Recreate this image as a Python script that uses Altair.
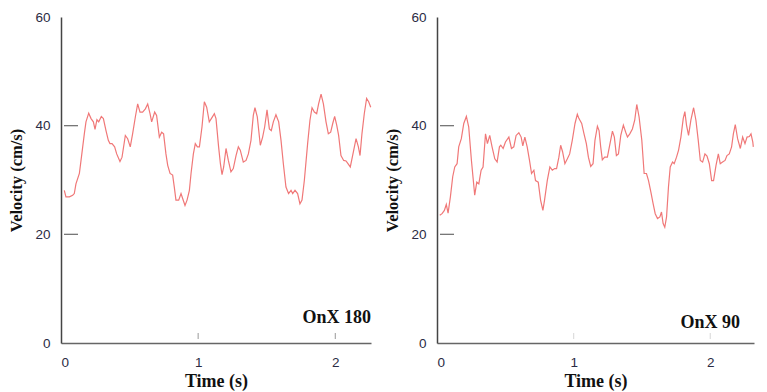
import altair as alt
import pandas as pd

# OnX 180 panel
t180 = [0.024, 0.036, 0.061, 0.085, 0.097, 0.109, 0.134, 0.146, 0.170, 0.182, 0.202, 0.219, 0.236, 0.248,
        0.262, 0.275, 0.294, 0.309, 0.328, 0.345, 0.357, 0.372, 0.391, 0.406, 0.430, 0.445, 0.469, 0.486,
        0.505, 0.522, 0.542, 0.559, 0.576, 0.595, 0.615, 0.632, 0.649, 0.661, 0.683, 0.697, 0.717, 0.734,
        0.748, 0.765, 0.778, 0.795, 0.814, 0.826, 0.838, 0.858, 0.875, 0.887, 0.904, 0.919, 0.936, 0.948,
        0.965, 0.979, 0.994, 1.009, 1.028, 1.045, 1.062, 1.081, 1.096, 1.118, 1.130, 1.149, 1.162, 1.174,
        1.186, 1.203, 1.220, 1.239, 1.256, 1.276, 1.293, 1.307, 1.329, 1.349, 1.366, 1.385, 1.402, 1.414,
        1.431, 1.453, 1.470, 1.485, 1.502, 1.519, 1.533, 1.548, 1.567, 1.587, 1.604, 1.621, 1.640, 1.659,
        1.677, 1.689, 1.706, 1.725, 1.742, 1.757, 1.774, 1.798, 1.815, 1.830, 1.847, 1.864, 1.878, 1.896,
        1.913, 1.932, 1.949, 1.966, 1.981, 1.995, 2.010, 2.024, 2.041, 2.061, 2.078, 2.092, 2.109, 2.126,
        2.151, 2.168, 2.180, 2.194, 2.211, 2.228, 2.243, 2.258]
v180 = [28.1, 26.9, 26.9, 27.2, 27.5, 29.3, 31.2, 33.6, 38.5, 40.7, 42.3, 41.3, 40.7, 39.3,
        41.1, 40.7, 41.7, 41.3, 39.1, 37.3, 36.7, 36.7, 36.1, 34.8, 33.4, 34.2, 38.2, 37.6,
        36.1, 38.5, 41.6, 44.0, 42.5, 42.5, 43.1, 44.0, 42.2, 40.7, 42.5, 41.9, 37.9, 38.8,
        38.5, 34.8, 32.7, 31.2, 30.9, 28.7, 26.3, 26.3, 27.5, 26.6, 25.3, 26.3, 28.1, 31.2,
        34.8, 36.7, 36.1, 36.1, 39.8, 44.4, 43.4, 40.7, 41.3, 42.2, 41.3, 36.1, 33.0, 31.0,
        32.4, 35.8, 33.6, 31.5, 32.1, 34.5, 36.1, 35.5, 33.3, 33.6, 34.8, 37.3, 41.9, 43.3,
        41.6, 36.4, 37.9, 39.8, 42.9, 39.4, 39.1, 40.7, 42.0, 40.7, 37.3, 33.0, 28.7, 27.5,
        28.1, 27.5, 28.1, 27.5, 25.6, 26.3, 29.9, 36.7, 41.0, 43.3, 42.5, 42.2, 44.0, 45.8,
        44.0, 40.7, 38.5, 38.8, 40.4, 41.7, 40.1, 38.2, 34.5, 33.6, 33.5, 33.0, 32.4, 34.5,
        37.6, 36.1, 34.5, 38.5, 42.2, 45.0, 44.4, 43.4]

# OnX 90 panel
t90 = [0.020, 0.037, 0.054, 0.068, 0.081, 0.098, 0.115, 0.130, 0.147, 0.159, 0.178, 0.196, 0.215, 0.232,
       0.252, 0.276, 0.291, 0.306, 0.323, 0.337, 0.355, 0.369, 0.386, 0.403, 0.423, 0.440, 0.457, 0.467,
       0.484, 0.501, 0.526, 0.545, 0.562, 0.579, 0.599, 0.616, 0.628, 0.643, 0.660, 0.677, 0.692, 0.709,
       0.721, 0.741, 0.758, 0.775, 0.787, 0.807, 0.826, 0.844, 0.861, 0.875, 0.892, 0.905, 0.919, 0.936,
       0.954, 0.971, 0.990, 1.010, 1.027, 1.039, 1.059, 1.076, 1.093, 1.108, 1.125, 1.142, 1.156, 1.174,
       1.186, 1.198, 1.210, 1.227, 1.247, 1.264, 1.284, 1.298, 1.313, 1.328, 1.345, 1.364, 1.381, 1.394,
       1.411, 1.430, 1.447, 1.462, 1.479, 1.499, 1.516, 1.533, 1.548, 1.565, 1.582, 1.597, 1.614, 1.631,
       1.643, 1.655, 1.667, 1.680, 1.694, 1.707, 1.724, 1.736, 1.753, 1.768, 1.785, 1.802, 1.814, 1.826,
       1.841, 1.858, 1.878, 1.895, 1.912, 1.927, 1.944, 1.961, 1.976, 1.993, 2.010, 2.024, 2.042, 2.059,
       2.073, 2.090, 2.108, 2.122, 2.139, 2.156, 2.169, 2.183, 2.200, 2.220, 2.237, 2.254, 2.269, 2.286,
       2.298, 2.311, 2.315]
v90 = [23.5, 23.8, 24.4, 25.5, 23.9, 26.9, 30.6, 32.4, 33.0, 36.1, 37.6, 40.4, 41.7, 39.8,
       33.6, 27.2, 29.6, 29.3, 31.8, 32.4, 38.5, 36.7, 38.2, 36.1, 33.9, 33.3, 36.1, 36.4,
       35.8, 37.0, 37.9, 35.8, 36.1, 38.2, 38.7, 37.9, 36.3, 37.9, 36.1, 33.6, 31.2, 31.8,
       29.9, 29.6, 26.3, 24.4, 26.3, 29.9, 32.4, 31.8, 32.1, 32.1, 34.2, 36.4, 35.2, 33.0,
       33.9, 34.8, 37.3, 40.4, 42.1, 41.3, 40.4, 38.5, 36.7, 34.2, 32.5, 33.0, 37.3, 39.9,
       39.1, 36.1, 33.7, 34.2, 34.2, 36.4, 39.0, 37.9, 34.5, 34.8, 38.2, 40.1, 38.8, 37.9,
       38.5, 39.4, 41.0, 43.9, 41.6, 37.3, 31.2, 31.2, 29.9, 27.8, 25.6, 23.8, 22.9, 23.2,
       24.1, 22.0, 21.3, 23.2, 28.7, 32.4, 33.3, 33.0, 34.2, 35.5, 37.9, 41.3, 42.6, 40.1,
       38.2, 41.0, 43.3, 41.0, 37.3, 33.6, 33.3, 34.8, 34.4, 33.0, 29.9, 29.9, 32.7, 34.8,
       33.0, 33.3, 33.6, 34.5, 34.8, 36.1, 38.5, 40.2, 37.6, 35.8, 37.9, 36.7, 37.9, 38.0,
       38.5, 37.0, 36.1]

y_ticks = [0, 20, 40, 60]
x_ticks = [0, 1, 2]
inner_y_ticks = [20, 40]
inner_x_ticks = [1, 2]

LINE = "#F07878"
SERIF = "Liberation Serif"
SANS = "Liberation Sans"


def panel(t, v, xmax, width, label, label_x, label_y, xtick_color):
    df = pd.DataFrame({"t": t, "v": v})
    xs = alt.Scale(domain=[0, xmax], nice=False, zero=False)
    ys = alt.Scale(domain=[0, 60], nice=False)
    xax = alt.Axis(values=x_ticks, ticks=False, grid=False, title="Time (s)", format="d",
                   domainColor="#666666", domainWidth=1.5, labelPadding=12, titlePadding=4,
                   titleFontSize=18)
    yax = alt.Axis(values=y_ticks, ticks=False, grid=False, title="Velocity (cm/s)",
                   domainColor="#444444", domainWidth=1.5, labelPadding=11, titlePadding=10,
                   titleFontSize=16.5)
    line = alt.Chart(df).mark_line(color=LINE, strokeWidth=1.2).encode(
        x=alt.X("t:Q", scale=xs, axis=xax),
        y=alt.Y("v:Q", scale=ys, axis=yax),
    )
    yt = alt.Chart(pd.DataFrame({"y": inner_y_ticks})).mark_rule(color="#777777", strokeWidth=1.3).encode(
        x=alt.value(3), x2=alt.value(17), y=alt.Y("y:Q", scale=ys)
    )
    xt = alt.Chart(pd.DataFrame({"x": inner_x_ticks})).mark_rule(color=xtick_color, strokeWidth=1.2).encode(
        x=alt.X("x:Q", scale=xs), y=alt.value(316), y2=alt.value(322)
    )
    txt = alt.Chart(pd.DataFrame({"label": [label]})).mark_text(
        font=SERIF, fontSize=18, fontWeight="bold", align="right", baseline="alphabetic", color="#111111"
    ).encode(text="label:N", x=alt.value(label_x), y=alt.value(label_y))
    return alt.layer(line, yt, xt, txt).properties(width=width, height=326)


left = panel(t180, v180, 2.26, 310, "OnX 180", 310, 306, "#aaaaaa")
right = panel(t90, v90, 2.32, 317, "OnX 90", 303, 311, "#dddddd")

chart = alt.hconcat(left, right, spacing=10).properties(
    padding={"left": 8, "top": 10, "right": 0, "bottom": 0},
    background="white",
).configure_view(stroke=None).configure_axis(
    labelFont=SANS, labelFontSize=13.5, labelColor="#2b2b44",
    titleFont=SERIF, titleFontWeight="bold", titleColor="#111111",
)

chart.save("out.html", embed_options={"renderer": "svg", "actions": False})
